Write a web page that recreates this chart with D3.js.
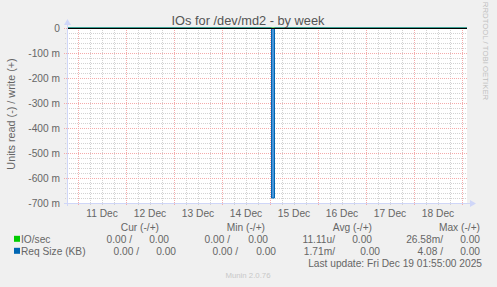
<!DOCTYPE html>
<html>
<head>
<meta charset="utf-8">
<script src="https://cdn.jsdelivr.net/npm/d3@7"></script>
<style>
  body { margin: 0; background: #f0f0f0; }
  svg text { font-family: "Liberation Sans", sans-serif; fill: #666666; }
</style>
</head>
<body>
<svg id="chart" width="497" height="287"></svg>
<script>
// time window of the week graph
const startTime = new Date(Date.UTC(2025, 11, 10, 18, 30))
const endTime = new Date(Date.UTC(2025, 11, 19, 2, 30))

// y ticks (values are in units, labelled in milli)
const yTicks = [0, -0.1, -0.2, -0.3, -0.4, -0.5, -0.6, -0.7]
const yTickLabels = ["0", "-100 m", "-200 m", "-300 m", "-400 m", "-500 m", "-600 m", "-700 m"]

const dayLabels = ["11 Dec", "12 Dec", "13 Dec", "14 Dec", "15 Dec", "16 Dec", "17 Dec", "18 Dec"]

// series (read side plotted negative)
const ioTimes = ["2025-12-10T18:30Z", "2025-12-19T02:30Z"]
const ioValues = [0, 0]
const reqTimes = ["2025-12-10T18:30Z", "2025-12-15T00:45Z", "2025-12-15T00:45Z", "2025-12-15T02:15Z", "2025-12-15T02:15Z", "2025-12-19T02:30Z"]
const reqValues = [0, 0, -0.68, -0.68, 0, 0]

// legend
const seriesNames = ["IO/sec", "Req Size (KB)"]
const seriesColors = ["#00cc00", "#0066b3"]
const legendHeaders = ["Cur (-/+)", "Min (-/+)", "Avg (-/+)", "Max (-/+)"]
const legendValues = [
  ["0.00 /", "0.00", "0.00 /", "0.00", "11.11u/", "0.00", "26.58m/", "0.00"],
  ["0.00 /", "0.00", "0.00 /", "0.00", "1.71m/", "0.00", "4.08 /", "0.00"]
]
const lastUpdate = "Last update: Fri Dec 19 01:55:00 2025"

const W = 497, H = 287
const plot = {left: 67, right: 467, top: 28, bottom: 203}
const fs = "10.2px"

const svg = d3.select("#chart")

svg.append("rect").attr("width", W).attr("height", H).attr("fill", "#f0f0f0")
svg.append("rect")
  .attr("x", plot.left).attr("y", plot.top)
  .attr("width", plot.right - plot.left).attr("height", plot.bottom - plot.top)
  .attr("fill", "#ffffff")

const x = d3.scaleUtc().domain([startTime, endTime]).range([plot.left, plot.right])
const y = d3.scaleLinear().domain([-0.7, 0]).range([plot.bottom, plot.top])

const grid = svg.append("g").attr("shape-rendering", "crispEdges")

// minor grid
const minorX = d3.utcHour.every(6).range(startTime, endTime).filter(d => d.getUTCHours() !== 0)
grid.selectAll(".mx").data(minorX).join("line")
  .attr("x1", d => Math.round(x(d)) + 0.5).attr("x2", d => Math.round(x(d)) + 0.5)
  .attr("y1", plot.top).attr("y2", plot.bottom + 2)
  .attr("stroke", "#d2d2d2").attr("stroke-dasharray", "1,1")

const minorY = d3.range(0, 36).map(i => -i * 0.02).filter(v => Math.abs(v * 10 - Math.round(v * 10)) > 1e-6)
grid.selectAll(".my").data(minorY).join("line")
  .attr("x1", plot.left - 2).attr("x2", plot.right)
  .attr("y1", d => Math.round(y(d)) + 0.5).attr("y2", d => Math.round(y(d)) + 0.5)
  .attr("stroke", "#d2d2d2").attr("stroke-dasharray", "1,1")

// major grid
const majorX = d3.utcDay.range(startTime, endTime)
grid.selectAll(".Mx").data(majorX).join("line")
  .attr("x1", d => Math.round(x(d)) + 0.5).attr("x2", d => Math.round(x(d)) + 0.5)
  .attr("y1", plot.top).attr("y2", plot.bottom + 3)
  .attr("stroke", "#f4aaaa").attr("stroke-dasharray", "1,1")

grid.selectAll(".My").data(yTicks).join("line")
  .attr("x1", plot.left - 3).attr("x2", plot.right)
  .attr("y1", d => Math.round(y(d)) + 0.5).attr("y2", d => Math.round(y(d)) + 0.5)
  .attr("stroke", "#f4aaaa").attr("stroke-dasharray", "1,1")

// y labels
svg.append("g").selectAll("text").data(yTicks).join("text")
  .attr("x", 60).attr("y", d => y(d) + 3.6)
  .attr("text-anchor", "end").style("font-size", fs)
  .text((d, i) => yTickLabels[i])

// day labels at noon
svg.append("g").selectAll("text").data(majorX.slice(0, dayLabels.length)).join("text")
  .attr("x", d => x(d3.utcHour.offset(d, 12))).attr("y", 216.5)
  .attr("text-anchor", "middle").style("font-size", fs)
  .text((d, i) => dayLabels[i])

// series
const line = d3.line().x(d => x(d.t)).y(d => y(d.v))
const ioData = ioTimes.map((t, i) => ({t: new Date(t), v: ioValues[i]}))
const reqData = reqTimes.map((t, i) => ({t: new Date(t), v: reqValues[i]}))

svg.append("path").datum(reqData)
  .attr("d", d3.area().x(d => x(d.t)).y0(y(0)).y1(d => y(d.v)))
  .attr("fill", "#4a94d8")
svg.append("path").datum(ioData).attr("d", line)
  .attr("fill", "none").attr("stroke", seriesColors[0])
svg.append("path").datum(reqData).attr("d", line)
  .attr("fill", "none").attr("stroke", seriesColors[1])

// zero rule
svg.append("line")
  .attr("x1", plot.left).attr("x2", plot.right)
  .attr("y1", y(0) + 0.5).attr("y2", y(0) + 0.5)
  .attr("stroke", "#000").attr("shape-rendering", "crispEdges")

// axes with arrows
const axisColor = "#cfd6f8"
svg.append("line").attr("x1", plot.left + 0.5).attr("x2", plot.left + 0.5)
  .attr("y1", plot.bottom + 3).attr("y2", plot.top - 4)
  .attr("stroke", axisColor).attr("shape-rendering", "crispEdges")
svg.append("line").attr("x1", plot.left - 3).attr("x2", plot.right + 4)
  .attr("y1", plot.bottom + 0.5).attr("y2", plot.bottom + 0.5)
  .attr("stroke", axisColor).attr("shape-rendering", "crispEdges")
svg.append("path")
  .attr("d", `M${plot.left - 3},${plot.top - 3}L${plot.left + 0.5},${plot.top - 9}L${plot.left + 4},${plot.top - 3}Z`)
  .attr("fill", axisColor)
svg.append("path")
  .attr("d", `M${plot.right + 3},${plot.bottom - 3}L${plot.right + 9},${plot.bottom + 0.5}L${plot.right + 3},${plot.bottom + 4}Z`)
  .attr("fill", axisColor)

// titles
svg.append("text").attr("x", 248).attr("y", 25)
  .attr("text-anchor", "middle").style("font-size", "12.8px").style("fill", "#555")
  .text("IOs for /dev/md2 - by week")

svg.append("text")
  .attr("transform", "translate(14.5,114) rotate(-90)")
  .attr("text-anchor", "middle").style("font-size", "10.8px")
  .text("Units read (-) / write (+)")

svg.append("text")
  .attr("transform", "translate(483,51) rotate(90)")
  .attr("text-anchor", "middle").style("font-size", "7.8px").style("fill", "#c0c0c0")
  .text("RRDTOOL / TOBI OETIKER")

// legend
const headerEnds = [159, 265, 372, 480]
svg.append("g").selectAll("text").data(legendHeaders).join("text")
  .attr("x", (d, i) => headerEnds[i]).attr("y", 230.5)
  .attr("text-anchor", "end").style("font-size", fs).text(d => d)

const valueEnds = [
  [132, 169, 230, 268, 335, 372, 443, 480],
  [139, 176, 238, 276, 335, 380, 443, 480]
]
seriesNames.forEach((name, r) => {
  const by = 242.8 + r * 12
  svg.append("rect").attr("x", 14).attr("y", by - 7).attr("width", 6).attr("height", 6)
    .attr("fill", seriesColors[r])
  svg.append("text").attr("x", 21).attr("y", by).style("font-size", fs).text(name)
  svg.append("g").selectAll("text").data(legendValues[r]).join("text")
    .attr("x", (d, i) => valueEnds[r][i]).attr("y", by)
    .attr("text-anchor", "end").style("font-size", fs).text(d => d)
})

svg.append("text").attr("x", 482).attr("y", 266.8)
  .attr("text-anchor", "end").style("font-size", fs).text(lastUpdate)

svg.append("text").attr("x", 248).attr("y", 278)
  .attr("text-anchor", "middle").style("font-size", "7.8px").style("fill", "#c8c8c8")
  .text("Munin 2.0.76")
</script>
</body>
</html>
